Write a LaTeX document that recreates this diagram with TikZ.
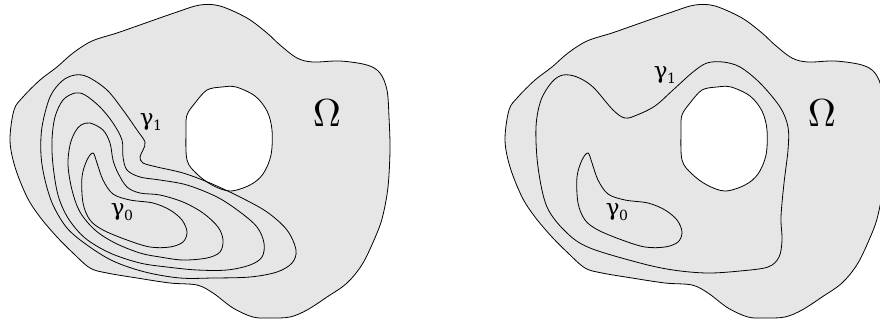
\documentclass[tikz,border=0pt]{standalone}
\usepackage{fontspec}
\setmainfont{DejaVu Serif}
\newcommand{\gsub}[1]{γ\kern-0.5pt{\fontsize{14}{14}\selectfont\raisebox{-4.5pt}{#1}}}
\newcommand{\bigomega}{\scalebox{3.9}{$\Omega$}}
\begin{document}
\begin{tikzpicture}[x=1pt,y=-1pt,
  region/.style={draw=black,line width=0.8pt,fill=regiongray},
  holeshape/.style={draw=black,line width=0.8pt,fill=white},
  contour/.style={draw=black,line width=0.8pt},
  lbl/.style={inner sep=0pt,font=\fontsize{23}{23}\selectfont},
  biglbl/.style={inner sep=0pt}]
\definecolor{regiongray}{RGB}{230,230,230}
\useasboundingbox (0,0) rectangle (880,325);
\def\outershape{plot[smooth cycle,tension=0.55] coordinates {
 (137,26) (177,12) (200,5) (220,6) (247,18) (267,33) (280,45) (297,58) (313,62) (340,61) (367,65) (380,73) (387,90) (389,117) (390,150) (388,187) (383,215) (377,233) (363,263) (347,283) (327,297) (307,310) (290,317) (270,318) (253,317) (233,308) (213,293) (197,285) (170,283) (137,278) (107,273) (90,268) (73,253) (57,237) (40,217) (27,197) (15,167) (10,140) (14,110) (23,97) (40,80) (57,67) (73,53) (92,41) (117,33)}}
\def\holeshapepath{plot[smooth cycle,tension=0.55] coordinates {
 (207,90) (222,87) (236,87) (255,96) (267,111) (272,130) (271,155) (263,174) (250,185) (230,191) (212,185) (197,174) (187,160) (186,130) (187,115) (195,103)}}
\def\gammazero{plot[smooth cycle,tension=0.55] coordinates {
 (93,153) (97,163) (103,180) (113,194) (130,200) (153,203) (170,210) (182,220) (187,232) (183,242) (170,247) (150,247) (127,240) (103,230) (90,220) (83,203) (82,177) (87,160)}}
% left figure
\path[region] \outershape;
\path[holeshape] \holeshapepath;
\path[contour] plot[smooth cycle,tension=0.55] coordinates {
 (75,75) (88,77) (107,90) (123,110) (137,130) (145,142) (143,150) (140,157) (143,163) (157,167) (183,173) (210,183) (240,197) (267,212) (287,230) (296,250) (292,263) (277,272) (250,277) (213,278) (180,278) (145,272) (113,261) (87,245) (67,228) (53,205) (45,180) (41,155) (42,127) (50,97) (62,81)};
\path[contour] plot[smooth cycle,tension=0.55] coordinates {
 (75,93) (85,95) (100,107) (113,123) (122,140) (123,157) (127,170) (140,177) (160,180) (187,185) (217,197) (240,212) (257,227) (264,243) (262,257) (250,265) (227,270) (197,270) (167,267) (140,263) (110,253) (85,238) (68,218) (58,195) (53,165) (52,140) (55,117) (63,100)};
\path[contour] plot[smooth cycle,tension=0.55] coordinates {
 (90,123) (103,130) (110,143) (113,160) (118,173) (127,187) (140,193) (160,195) (183,202) (203,213) (218,227) (223,240) (220,252) (207,258) (183,260) (160,257) (140,253) (115,243) (95,230) (80,212) (72,190) (68,165) (70,145) (75,132) (81,125)};
\path[contour] \gammazero;
\node[lbl] (g1L) at (151,122) {\gsub{1}};
\node[lbl] (g0L) at (122,212) {\gsub{0}};
\node[biglbl] (omL) at (327,113) {\bigomega};
% right figure
\begin{scope}[xshift=495pt]
\path[region] \outershape;
\path[holeshape] \holeshapepath;
\path[contour] \gammazero;
\end{scope}
\path[contour] plot[smooth cycle,tension=0.55] coordinates {
 (563,75) (577,77) (593,87) (613,110) (625,118) (637,115) (655,106) (673,90) (693,72) (707,63) (723,62) (740,67) (760,83) (780,107) (788,127) (788,150) (784,183) (781,217) (782,240) (779,257) (768,267) (740,271) (707,273) (673,270) (640,263) (590,248) (567,233) (547,207) (538,167) (536,127) (541,100) (552,82)};
\node[lbl] (g1R) at (665,75) {\gsub{1}};
\node[lbl] (g0R) at (617,212) {\gsub{0}};
\node[biglbl] (omR) at (822,113) {\bigomega};
\end{tikzpicture}
\end{document}
